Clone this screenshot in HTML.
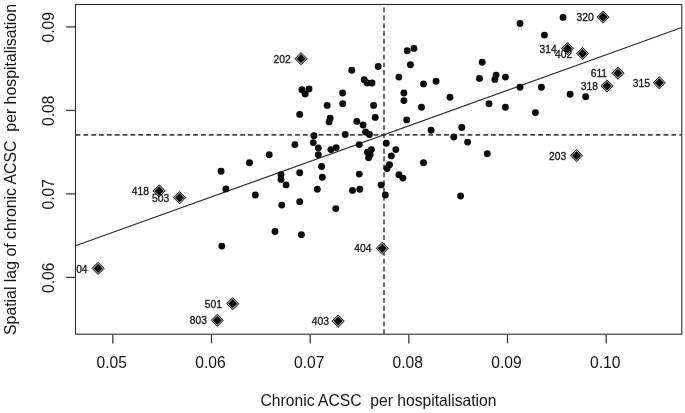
<!DOCTYPE html>
<html><head><meta charset="utf-8"><title>Moran scatterplot</title>
<style>
html,body{margin:0;padding:0;background:#fff;}
body{width:685px;height:413px;overflow:hidden;}
svg{display:block;}
text{font-family:"Liberation Sans",Arial,Helvetica,sans-serif;fill:#141414;}
svg{will-change:transform;}
.ax{font-size:17.0px;}
.lb{font-size:11.1px;text-anchor:end;stroke:#141414;stroke-width:0.3px;}
</style></head><body>
<svg width="685" height="413" viewBox="0 0 685 413">
<defs><clipPath id="c"><rect x="75.5" y="4.5" width="606.3" height="329.7"/></clipPath></defs>
<g clip-path="url(#c)">
<line x1="384.0" y1="334.2" x2="384.0" y2="4.5" stroke="#484848" stroke-width="1.6" stroke-dasharray="4.9 2.95"/>
<line x1="75.5" y1="134.9" x2="681.8" y2="134.9" stroke="#484848" stroke-width="1.6" stroke-dasharray="4.9 2.94"/>
<line x1="75.5" y1="245.8" x2="681.8" y2="27.6" stroke="#2b2b2b" stroke-width="1.1"/>
<g fill="#0a0a0a">
<circle cx="351.8" cy="70.3" r="3.45"/>
<circle cx="364.2" cy="79.7" r="3.45"/>
<circle cx="367.2" cy="83.0" r="3.45"/>
<circle cx="372.0" cy="83.0" r="3.45"/>
<circle cx="378.2" cy="66.5" r="3.45"/>
<circle cx="407.2" cy="50.7" r="3.45"/>
<circle cx="414.0" cy="48.4" r="3.45"/>
<circle cx="410.4" cy="64.8" r="3.45"/>
<circle cx="398.9" cy="77.1" r="3.45"/>
<circle cx="403.9" cy="93.0" r="3.45"/>
<circle cx="403.9" cy="100.6" r="3.45"/>
<circle cx="423.5" cy="83.9" r="3.45"/>
<circle cx="436.1" cy="81.2" r="3.45"/>
<circle cx="450.0" cy="97.3" r="3.45"/>
<circle cx="482.2" cy="62.3" r="3.45"/>
<circle cx="479.5" cy="78.4" r="3.45"/>
<circle cx="496.1" cy="75.1" r="3.45"/>
<circle cx="494.8" cy="79.4" r="3.45"/>
<circle cx="505.4" cy="77.1" r="3.45"/>
<circle cx="342.6" cy="93.0" r="3.45"/>
<circle cx="373.6" cy="105.4" r="3.45"/>
<circle cx="489.0" cy="103.7" r="3.45"/>
<circle cx="505.4" cy="107.3" r="3.45"/>
<circle cx="301.9" cy="89.7" r="3.45"/>
<circle cx="309.0" cy="89.0" r="3.45"/>
<circle cx="305.2" cy="94.0" r="3.45"/>
<circle cx="327.2" cy="105.4" r="3.45"/>
<circle cx="342.7" cy="103.7" r="3.45"/>
<circle cx="520.0" cy="23.5" r="3.45"/>
<circle cx="563.1" cy="17.4" r="3.45"/>
<circle cx="544.4" cy="35.1" r="3.45"/>
<circle cx="520.0" cy="87.2" r="3.45"/>
<circle cx="541.4" cy="87.2" r="3.45"/>
<circle cx="570.1" cy="94.3" r="3.45"/>
<circle cx="585.7" cy="96.8" r="3.45"/>
<circle cx="221.1" cy="171.3" r="3.45"/>
<circle cx="225.9" cy="188.9" r="3.45"/>
<circle cx="249.5" cy="162.7" r="3.45"/>
<circle cx="255.3" cy="195.0" r="3.45"/>
<circle cx="269.2" cy="154.7" r="3.45"/>
<circle cx="281.0" cy="174.8" r="3.45"/>
<circle cx="281.0" cy="179.4" r="3.45"/>
<circle cx="286.1" cy="184.9" r="3.45"/>
<circle cx="281.8" cy="205.1" r="3.45"/>
<circle cx="294.9" cy="144.6" r="3.45"/>
<circle cx="299.7" cy="114.4" r="3.45"/>
<circle cx="299.7" cy="172.8" r="3.45"/>
<circle cx="299.7" cy="201.8" r="3.45"/>
<circle cx="314.0" cy="135.8" r="3.45"/>
<circle cx="313.3" cy="142.6" r="3.45"/>
<circle cx="318.3" cy="147.9" r="3.45"/>
<circle cx="318.3" cy="154.7" r="3.45"/>
<circle cx="321.6" cy="166.5" r="3.45"/>
<circle cx="322.3" cy="177.3" r="3.45"/>
<circle cx="317.3" cy="189.2" r="3.45"/>
<circle cx="330.1" cy="118.2" r="3.45"/>
<circle cx="329.1" cy="121.9" r="3.45"/>
<circle cx="330.9" cy="149.6" r="3.45"/>
<circle cx="336.2" cy="147.6" r="3.45"/>
<circle cx="345.2" cy="134.5" r="3.45"/>
<circle cx="421.5" cy="107.3" r="3.45"/>
<circle cx="375.2" cy="117.4" r="3.45"/>
<circle cx="356.8" cy="121.4" r="3.45"/>
<circle cx="363.1" cy="125.0" r="3.45"/>
<circle cx="406.7" cy="119.9" r="3.45"/>
<circle cx="365.6" cy="132.0" r="3.45"/>
<circle cx="369.4" cy="134.5" r="3.45"/>
<circle cx="431.1" cy="130.2" r="3.45"/>
<circle cx="461.8" cy="127.5" r="3.45"/>
<circle cx="453.8" cy="137.0" r="3.45"/>
<circle cx="467.6" cy="142.1" r="3.45"/>
<circle cx="359.3" cy="144.6" r="3.45"/>
<circle cx="386.3" cy="143.3" r="3.45"/>
<circle cx="371.4" cy="149.6" r="3.45"/>
<circle cx="367.4" cy="152.2" r="3.45"/>
<circle cx="370.1" cy="154.7" r="3.45"/>
<circle cx="368.6" cy="157.7" r="3.45"/>
<circle cx="395.8" cy="149.6" r="3.45"/>
<circle cx="391.3" cy="155.9" r="3.45"/>
<circle cx="389.5" cy="164.8" r="3.45"/>
<circle cx="387.0" cy="168.5" r="3.45"/>
<circle cx="423.5" cy="162.7" r="3.45"/>
<circle cx="487.3" cy="153.7" r="3.45"/>
<circle cx="359.3" cy="174.1" r="3.45"/>
<circle cx="398.9" cy="174.8" r="3.45"/>
<circle cx="402.9" cy="178.1" r="3.45"/>
<circle cx="381.2" cy="184.9" r="3.45"/>
<circle cx="352.5" cy="190.4" r="3.45"/>
<circle cx="359.8" cy="189.2" r="3.45"/>
<circle cx="385.3" cy="195.0" r="3.45"/>
<circle cx="460.6" cy="196.0" r="3.45"/>
<circle cx="535.4" cy="112.6" r="3.45"/>
<circle cx="221.8" cy="246.1" r="3.45"/>
<circle cx="275.0" cy="231.5" r="3.45"/>
<circle cx="301.4" cy="234.7" r="3.45"/>
<circle cx="335.8" cy="208.6" r="3.45"/>
</g>
<path d="M294.9 58.7L301.0 52.6L307.1 58.7L301.0 64.8Z" fill="#999" stroke="#262626" stroke-width="1"/><path d="M296.6 58.7L301.0 54.300000000000004L305.4 58.7L301.0 63.1Z" fill="#0a0a0a"/>
<path d="M596.9 17.0L603.0 10.9L609.1 17.0L603.0 23.1Z" fill="#999" stroke="#262626" stroke-width="1"/><path d="M598.6 17.0L603.0 12.6L607.4 17.0L603.0 21.4Z" fill="#0a0a0a"/>
<path d="M561.5 48.5L567.6 42.4L573.7 48.5L567.6 54.6Z" fill="#999" stroke="#262626" stroke-width="1"/><path d="M563.2 48.5L567.6 44.1L572.0 48.5L567.6 52.9Z" fill="#0a0a0a"/>
<path d="M576.4 53.5L582.5 47.4L588.6 53.5L582.5 59.6Z" fill="#999" stroke="#262626" stroke-width="1"/><path d="M578.1 53.5L582.5 49.1L586.9 53.5L582.5 57.9Z" fill="#0a0a0a"/>
<path d="M611.9 73.2L618.0 67.10000000000001L624.1 73.2L618.0 79.3Z" fill="#999" stroke="#262626" stroke-width="1"/><path d="M613.6 73.2L618.0 68.8L622.4 73.2L618.0 77.60000000000001Z" fill="#0a0a0a"/>
<path d="M600.9 85.9L607.0 79.80000000000001L613.1 85.9L607.0 92.0Z" fill="#999" stroke="#262626" stroke-width="1"/><path d="M602.6 85.9L607.0 81.5L611.4 85.9L607.0 90.30000000000001Z" fill="#0a0a0a"/>
<path d="M653.1999999999999 82.8L659.3 76.7L665.4 82.8L659.3 88.89999999999999Z" fill="#999" stroke="#262626" stroke-width="1"/><path d="M654.9 82.8L659.3 78.39999999999999L663.6999999999999 82.8L659.3 87.2Z" fill="#0a0a0a"/>
<path d="M570.4 155.6L576.5 149.5L582.6 155.6L576.5 161.7Z" fill="#999" stroke="#262626" stroke-width="1"/><path d="M572.1 155.6L576.5 151.2L580.9 155.6L576.5 160.0Z" fill="#0a0a0a"/>
<path d="M153.1 190.9L159.2 184.8L165.29999999999998 190.9L159.2 197.0Z" fill="#999" stroke="#262626" stroke-width="1"/><path d="M154.79999999999998 190.9L159.2 186.5L163.6 190.9L159.2 195.3Z" fill="#0a0a0a"/>
<path d="M173.5 197.7L179.6 191.6L185.7 197.7L179.6 203.79999999999998Z" fill="#999" stroke="#262626" stroke-width="1"/><path d="M175.2 197.7L179.6 193.29999999999998L184.0 197.7L179.6 202.1Z" fill="#0a0a0a"/>
<path d="M92.0 268.4L98.1 262.29999999999995L104.19999999999999 268.4L98.1 274.5Z" fill="#999" stroke="#262626" stroke-width="1"/><path d="M93.69999999999999 268.4L98.1 264.0L102.5 268.4L98.1 272.79999999999995Z" fill="#0a0a0a"/>
<path d="M226.6 303.7L232.7 297.59999999999997L238.79999999999998 303.7L232.7 309.8Z" fill="#999" stroke="#262626" stroke-width="1"/><path d="M228.29999999999998 303.7L232.7 299.3L237.1 303.7L232.7 308.09999999999997Z" fill="#0a0a0a"/>
<path d="M211.20000000000002 320.3L217.3 314.2L223.4 320.3L217.3 326.40000000000003Z" fill="#999" stroke="#262626" stroke-width="1"/><path d="M212.9 320.3L217.3 315.90000000000003L221.70000000000002 320.3L217.3 324.7Z" fill="#0a0a0a"/>
<path d="M332.09999999999997 321.1L338.2 315.0L344.3 321.1L338.2 327.20000000000005Z" fill="#999" stroke="#262626" stroke-width="1"/><path d="M333.8 321.1L338.2 316.70000000000005L342.59999999999997 321.1L338.2 325.5Z" fill="#0a0a0a"/>
<path d="M376.2 248.3L382.3 242.20000000000002L388.40000000000003 248.3L382.3 254.4Z" fill="#999" stroke="#262626" stroke-width="1"/><path d="M377.90000000000003 248.3L382.3 243.9L386.7 248.3L382.3 252.70000000000002Z" fill="#0a0a0a"/>
<text class="lb" transform="translate(290.7 62.8) scale(0.93 1)">202</text>
<text class="lb" transform="translate(593.7 21.1) scale(0.93 1)">320</text>
<text class="lb" transform="translate(556.8 52.6) scale(0.93 1)">314</text>
<text class="lb" transform="translate(572.2 57.6) scale(0.93 1)">402</text>
<text class="lb" transform="translate(607.1 77.3) scale(0.93 1)">611</text>
<text class="lb" transform="translate(597.9 90.0) scale(0.93 1)">318</text>
<text class="lb" transform="translate(649.9 86.9) scale(0.93 1)">315</text>
<text class="lb" transform="translate(566.2 159.7) scale(0.93 1)">203</text>
<text class="lb" transform="translate(148.9 195.0) scale(0.93 1)">418</text>
<text class="lb" transform="translate(169.3 201.8) scale(0.93 1)">503</text>
<text class="lb" transform="translate(87.6 272.5) scale(0.93 1)">04</text>
<text class="lb" transform="translate(221.9 307.8) scale(0.93 1)">501</text>
<text class="lb" transform="translate(207.0 324.4) scale(0.93 1)">803</text>
<text class="lb" transform="translate(328.9 325.2) scale(0.93 1)">403</text>
<text class="lb" transform="translate(371.5 252.4) scale(0.93 1)">404</text>
</g>
<rect x="75.5" y="4.5" width="606.3" height="329.7" fill="none" stroke="#2b2b2b" stroke-width="1.1"/>
<line x1="112.8" y1="334.2" x2="112.8" y2="343.4" stroke="#3c3c3c" stroke-width="1.3"/>
<text class="ax" text-anchor="middle" transform="translate(111.8 368.3) scale(0.92 1)">0.05</text>
<line x1="211.5" y1="334.2" x2="211.5" y2="343.4" stroke="#3c3c3c" stroke-width="1.3"/>
<text class="ax" text-anchor="middle" transform="translate(210.5 368.3) scale(0.92 1)">0.06</text>
<line x1="310.2" y1="334.2" x2="310.2" y2="343.4" stroke="#3c3c3c" stroke-width="1.3"/>
<text class="ax" text-anchor="middle" transform="translate(309.2 368.3) scale(0.92 1)">0.07</text>
<line x1="408.8" y1="334.2" x2="408.8" y2="343.4" stroke="#3c3c3c" stroke-width="1.3"/>
<text class="ax" text-anchor="middle" transform="translate(407.8 368.3) scale(0.92 1)">0.08</text>
<line x1="507.5" y1="334.2" x2="507.5" y2="343.4" stroke="#3c3c3c" stroke-width="1.3"/>
<text class="ax" text-anchor="middle" transform="translate(506.5 368.3) scale(0.92 1)">0.09</text>
<line x1="606.2" y1="334.2" x2="606.2" y2="343.4" stroke="#3c3c3c" stroke-width="1.3"/>
<text class="ax" text-anchor="middle" transform="translate(605.2 368.3) scale(0.92 1)">0.10</text>
<line x1="66.1" y1="26.9" x2="75.5" y2="26.9" stroke="#3c3c3c" stroke-width="1.3"/>
<text class="ax" text-anchor="middle" transform="translate(53.6 27.2) rotate(-90) scale(0.92 1)">0.09</text>
<line x1="66.1" y1="110.4" x2="75.5" y2="110.4" stroke="#3c3c3c" stroke-width="1.3"/>
<text class="ax" text-anchor="middle" transform="translate(53.6 110.7) rotate(-90) scale(0.92 1)">0.08</text>
<line x1="66.1" y1="193.9" x2="75.5" y2="193.9" stroke="#3c3c3c" stroke-width="1.3"/>
<text class="ax" text-anchor="middle" transform="translate(53.6 194.2) rotate(-90) scale(0.92 1)">0.07</text>
<line x1="66.1" y1="277.4" x2="75.5" y2="277.4" stroke="#3c3c3c" stroke-width="1.3"/>
<text class="ax" text-anchor="middle" transform="translate(53.6 277.7) rotate(-90) scale(0.92 1)">0.06</text>
<text class="ax" text-anchor="middle" transform="translate(378.5 406.3) scale(0.922 1)" xml:space="preserve">Chronic ACSC  per hospitalisation</text>
<text class="ax" text-anchor="middle" transform="translate(16.2 169.5) rotate(-90) scale(0.932 1)" xml:space="preserve">Spatial lag of chronic ACSC  per hospitalisation</text>
</svg></body></html>
